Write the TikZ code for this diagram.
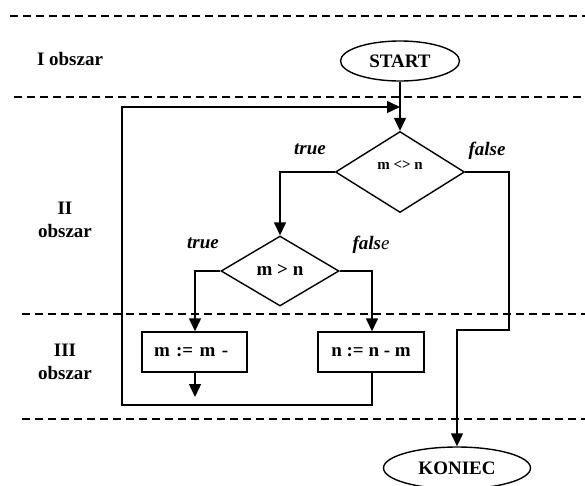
\documentclass[tikz,border=0pt]{standalone}
\usepackage{fontspec}
\setmainfont{Liberation Serif}
\usetikzlibrary{shapes.geometric,arrows.meta}
\begin{document}
\begin{tikzpicture}[x=1pt,y=-1pt,
  every node/.style={font=\bfseries\fontsize{19}{23}\selectfont, inner sep=0pt},
  line/.style={line width=1.4pt},
  arrow/.style={line, -{Triangle[length=13pt,width=12pt]}},
  zone/.style={line width=1.2pt, dash pattern=on 8pt off 5pt},
  terminal/.style={ellipse, draw, line width=1.4pt},
  decision/.style={diamond, draw, line width=1.4pt},
  stepbox/.style={rectangle, draw, line width=1.4pt, minimum height=40pt},
  branch/.style={font=\bfseries\itshape\fontsize{19}{23}\selectfont}
]
\useasboundingbox (0,0) rectangle (585,485);

% zone separators
\draw[zone] (10,16) -- (585,16);
\draw[zone] (14,97) -- (585,97);
\draw[zone] (22,314) -- (585,314);
\draw[zone] (22,419) -- (585,419);

% zone names
\node (z1) at (70,59) {I obszar};
\node[align=center] (z2) at (65,220) {II\\obszar};
\node[align=center] (z3) at (65,362) {III\\obszar};

% blocks
\node[terminal, minimum width=119pt, minimum height=40pt] (start) at (400,61) {START};
\node[decision, minimum width=129pt, minimum height=81pt] (d1) at (400,172) {};
\node[font=\bfseries\fontsize{15}{18}\selectfont] (d1t) at (400,165) {m <> n};
\node[decision, minimum width=118pt, minimum height=70pt] (d2) at (280,271) {};
\node (d2t) at (280,270) {m > n};
\node[stepbox, minimum width=105pt, text width=81pt, align=left, inner xsep=12pt] (b1) at (194.5,352) {m := m -};
\node[stepbox, minimum width=106pt] (b2) at (371,352) {n := n - m};
\node[terminal, minimum width=147pt, minimum height=42pt] (end) at (457,468) {KONIEC};

% branch labels
\node[branch] (t1) at (310,149) {true};
\node[branch] (f1) at (487,151) {false};
\node[branch] (t2) at (203,243) {true};
\node (f2) at (371,245) {\textit{fals}{\mdseries\itshape e}};

% helper points
\coordinate (join) at (400,107);
\coordinate (lb) at (122,405);
\coordinate (lt) at (122,107);
\coordinate (r1) at (509,330);
\coordinate (b1out) at (195,397);

% connectors
\draw[arrow] (start) -- (d1.north);
\draw[arrow] (d1.west) -| (d2.north);
\draw[arrow] (d1.east) -| (r1) -| (end.north);
\draw[arrow] (d2.west) -| ([xshift=0.5pt]b1.north);
\draw[arrow] (d2.east) -| ([xshift=1pt]b2.north);
\draw[arrow] ([xshift=0.5pt]b1.south) -- (b1out);
\draw[arrow] ([xshift=1pt]b2.south) |- (lb) -- (lt) -- (join);
\end{tikzpicture}
\end{document}
